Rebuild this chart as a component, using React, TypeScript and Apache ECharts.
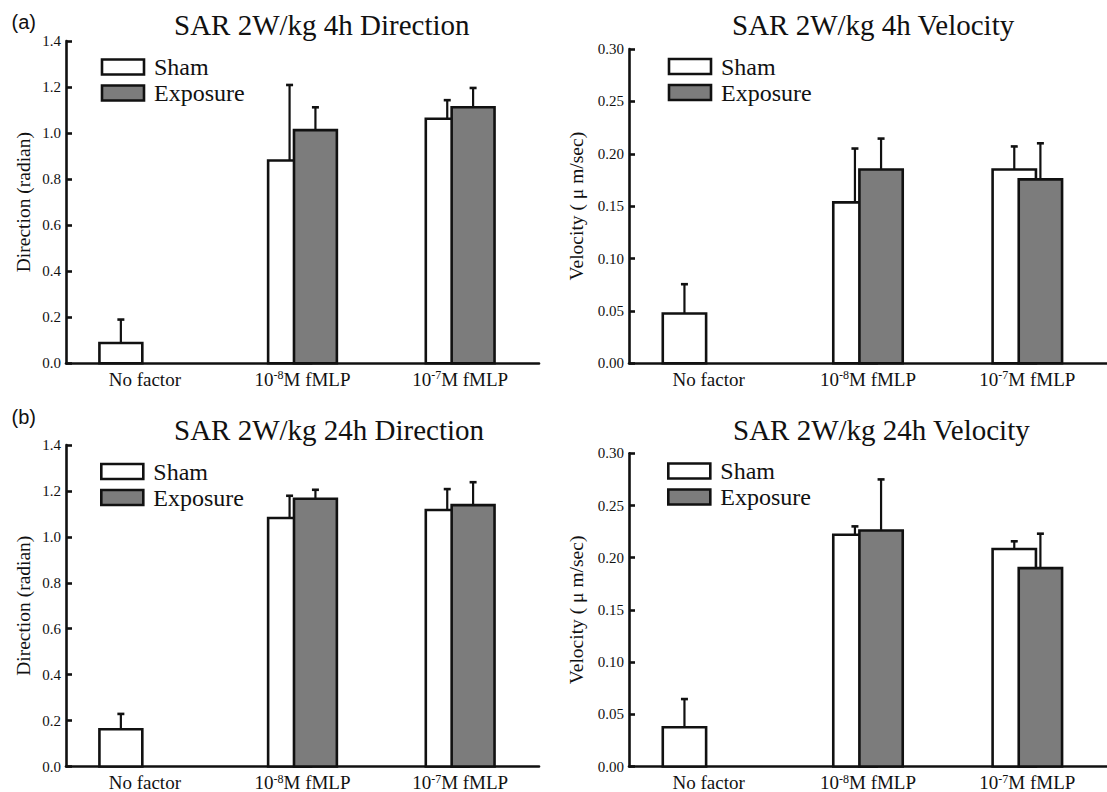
import React, { useEffect, useRef } from "react";
import * as echarts from "echarts";

const categories = ["No factor", "10-8M fMLP", "10-7M fMLP"];

const dir4hSham = [0.088, 0.881, 1.062];
const dir4hShamErr = [0.102, 0.328, 0.081];
const dir4hExp = [null, 1.013, 1.112];
const dir4hExpErr = [null, 0.099, 0.084];

const vel4hSham = [0.0475, 0.1536, 0.185];
const vel4hShamErr = [0.028, 0.0514, 0.022];
const vel4hExp = [null, 0.185, 0.1756];
const vel4hExpErr = [null, 0.0295, 0.0344];

const dir24hSham = [0.162, 1.082, 1.117];
const dir24hShamErr = [0.067, 0.097, 0.091];
const dir24hExp = [null, 1.166, 1.138];
const dir24hExpErr = [null, 0.039, 0.1];

const vel24hSham = [0.0376, 0.222, 0.2084];
const vel24hShamErr = [0.027, 0.008, 0.0073];
const vel24hExp = [null, 0.226, 0.19];
const vel24hExpErr = [null, 0.049, 0.033];

const titles = [
  "SAR 2W/kg 4h Direction",
  "SAR 2W/kg 4h Velocity",
  "SAR 2W/kg 24h Direction",
  "SAR 2W/kg 24h Velocity",
];
const yNames = ["Direction (radian)", "Velocity ( μ m/sec)", "Direction (radian)", "Velocity ( μ m/sec)"];
const panelLetters = ["(a)", "(b)"];

const SERIF = "Liberation Serif";
const INK = "#111";
const GRAY = "#7c7c7c";

export default function App() {
  const ref = useRef<HTMLDivElement>(null);

  useEffect(() => {
    if (!ref.current) return;
    const chart = echarts.init(ref.current, undefined, { renderer: "svg" });

    const panels = [
      { sham: dir4hSham, shamErr: dir4hShamErr, exp: dir4hExp, expErr: dir4hExpErr, max: 1.4, interval: 0.2, dec: 1 },
      { sham: vel4hSham, shamErr: vel4hShamErr, exp: vel4hExp, expErr: vel4hExpErr, max: 0.3, interval: 0.05, dec: 2 },
      { sham: dir24hSham, shamErr: dir24hShamErr, exp: dir24hExp, expErr: dir24hExpErr, max: 1.4, interval: 0.2, dec: 1 },
      { sham: vel24hSham, shamErr: vel24hShamErr, exp: vel24hExp, expErr: vel24hExpErr, max: 0.3, interval: 0.05, dec: 2 },
    ];

    const grids = [
      { left: 66, top: 41, width: 473, height: 322.3 },
      { left: 629, top: 49, width: 487, height: 314.3 },
      { left: 66, top: 445, width: 473, height: 322.7 },
      { left: 629, top: 453.3, width: 487, height: 314.4 },
    ];
    const titlePos = [
      { left: 174, top: 10 },
      { left: 732, top: 10 },
      { left: 174, top: 415 },
      { left: 733, top: 415 },
    ];
    const legendPos = [
      { left: 100.7, top: 55 },
      { left: 667.7, top: 54.5 },
      { left: 100, top: 459.5 },
      { left: 667, top: 459 },
    ];
    const yNameGap = [33, 43, 33, 43];

    const labelFormatter = (v: string) => {
      const m = v.match(/^10(-\d)(.*)$/);
      if (m) return `{n|10}{s|${m[1]}}{n|${m[2]}}`;
      return `{n|${v}}`;
    };

    const makeRender = (role: "sham" | "exp", exp: (number | null)[]) =>
      (params: any, api: any) => {
        const idx = api.value(0);
        const v = api.value(1);
        const e = api.value(2);
        const base = api.coord([idx, 0]);
        const band = api.size([1, 0])[0];
        const w = band * 0.272;
        let cx: number;
        if (role === "sham") {
          cx = exp[idx] == null ? base[0] - band * 0.016 - w / 2 : base[0] - band * 0.082;
        } else {
          cx = base[0] + band * 0.082;
        }
        const yTop = api.coord([idx, v])[1];
        const yErr = api.coord([idx, v + e])[1];
        return {
          type: "group",
          children: [
            {
              type: "rect",
              shape: { x: cx - w / 2, y: yTop, width: w, height: base[1] - yTop },
              style: { fill: role === "sham" ? "#fff" : GRAY, stroke: INK, lineWidth: 2.6 },
            },
            {
              type: "line",
              shape: { x1: cx, y1: yTop, x2: cx, y2: yErr },
              style: { stroke: INK, lineWidth: 2.2 },
            },
            {
              type: "line",
              shape: { x1: cx - 3.5, y1: yErr, x2: cx + 3.5, y2: yErr },
              style: { stroke: INK, lineWidth: 2.6 },
            },
          ],
        };
      };

    const series: any[] = [];
    panels.forEach((p, gi) => {
      const shamData = categories.map((_, i) => [i, p.sham[i], p.shamErr[i]]);
      const expData: any[] = [];
      categories.forEach((_, i) => {
        if (p.exp[i] != null) expData.push([i, p.exp[i], p.expErr[i]]);
      });
      series.push({
        type: "custom",
        name: "Sham",
        xAxisIndex: gi,
        yAxisIndex: gi,
        itemStyle: { color: "#fff", borderColor: INK, borderWidth: 2.6 },
        encode: { x: 0, y: 1 },
        data: shamData,
        renderItem: makeRender("sham", p.exp),
      });
      series.push({
        type: "custom",
        name: "Exposure",
        xAxisIndex: gi,
        yAxisIndex: gi,
        itemStyle: { color: GRAY, borderColor: INK, borderWidth: 2.6 },
        encode: { x: 0, y: 1 },
        data: expData,
        renderItem: makeRender("exp", p.exp),
      });
    });

    const option: any = {
      animation: false,
      backgroundColor: "#fff",
      textStyle: { fontFamily: SERIF, color: INK },
      title: titles.map((t, i) => ({
        text: t,
        left: titlePos[i].left,
        top: titlePos[i].top,
        padding: 0,
        textStyle: { fontFamily: SERIF, fontSize: 29, fontWeight: "normal", color: INK, lineHeight: 29 },
      })),
      legend: grids.map((_, i) => ({
        orient: "vertical",
        left: legendPos[i].left,
        top: legendPos[i].top,
        padding: 0,
        itemGap: 2,
        itemWidth: 42,
        itemHeight: 15,
        selectedMode: false,
        icon: "rect",
        textStyle: { fontFamily: SERIF, fontSize: 24, color: INK, lineHeight: 24, padding: [0, 0, 0, 5] },
        data: [
          { name: "Sham", itemStyle: { color: "#fff", borderColor: INK, borderWidth: 2.6 } },
          { name: "Exposure", itemStyle: { color: GRAY, borderColor: INK, borderWidth: 2.6 } },
        ],
      })),
      grid: grids.map((g) => ({ ...g, containLabel: false })),
      xAxis: grids.map((_, i) => ({
        type: "category",
        gridIndex: i,
        data: categories,
        boundaryGap: true,
        axisLine: { lineStyle: { color: INK, width: 2.6 } },
        axisTick: { inside: true, length: 9, lineStyle: { color: INK, width: 2.6 } },
        axisLabel: {
          interval: 0,
          hideOverlap: false,
          margin: 6,
          fontFamily: SERIF,
          fontSize: 19,
          color: INK,
          formatter: labelFormatter,
          rich: {
            n: { fontFamily: SERIF, fontSize: 19, color: INK, lineHeight: 20 },
            s: { fontFamily: SERIF, fontSize: 12, color: INK, lineHeight: 14, verticalAlign: "top" },
          },
        },
        splitLine: { show: false },
      })),
      yAxis: grids.map((_, i) => ({
        type: "value",
        gridIndex: i,
        min: 0,
        max: panels[i].max,
        interval: panels[i].interval,
        name: yNames[i],
        nameLocation: "middle",
        nameGap: yNameGap[i],
        nameTextStyle: { fontFamily: SERIF, fontSize: 19.5, color: INK },
        axisLine: { show: true, lineStyle: { color: INK, width: 2.6 } },
        axisTick: { show: true, inside: true, length: 6, lineStyle: { color: INK, width: 2.6 } },
        axisLabel: {
          margin: 5,
          fontFamily: SERIF,
          fontSize: 15,
          color: INK,
          formatter: (v: number) => v.toFixed(panels[i].dec),
        },
        splitLine: { show: false },
      })),
      graphic: [
        {
          type: "text",
          left: 11.5,
          top: 12,
          style: { text: panelLetters[0], font: "20px 'Liberation Sans', Arial, sans-serif", fill: INK },
        },
        {
          type: "text",
          left: 11.5,
          top: 407,
          style: { text: panelLetters[1], font: "20px 'Liberation Sans', Arial, sans-serif", fill: INK },
        },
      ],
      series,
    };

    chart.setOption(option);
    return () => chart.dispose();
  }, []);

  return (
    <div
      style={{ position: "fixed", left: 0, top: 0, width: 1107, height: 792, overflow: "hidden", background: "#fff" }}
    >
      <div ref={ref} style={{ width: 1107, height: 792 }} />
    </div>
  );
}
